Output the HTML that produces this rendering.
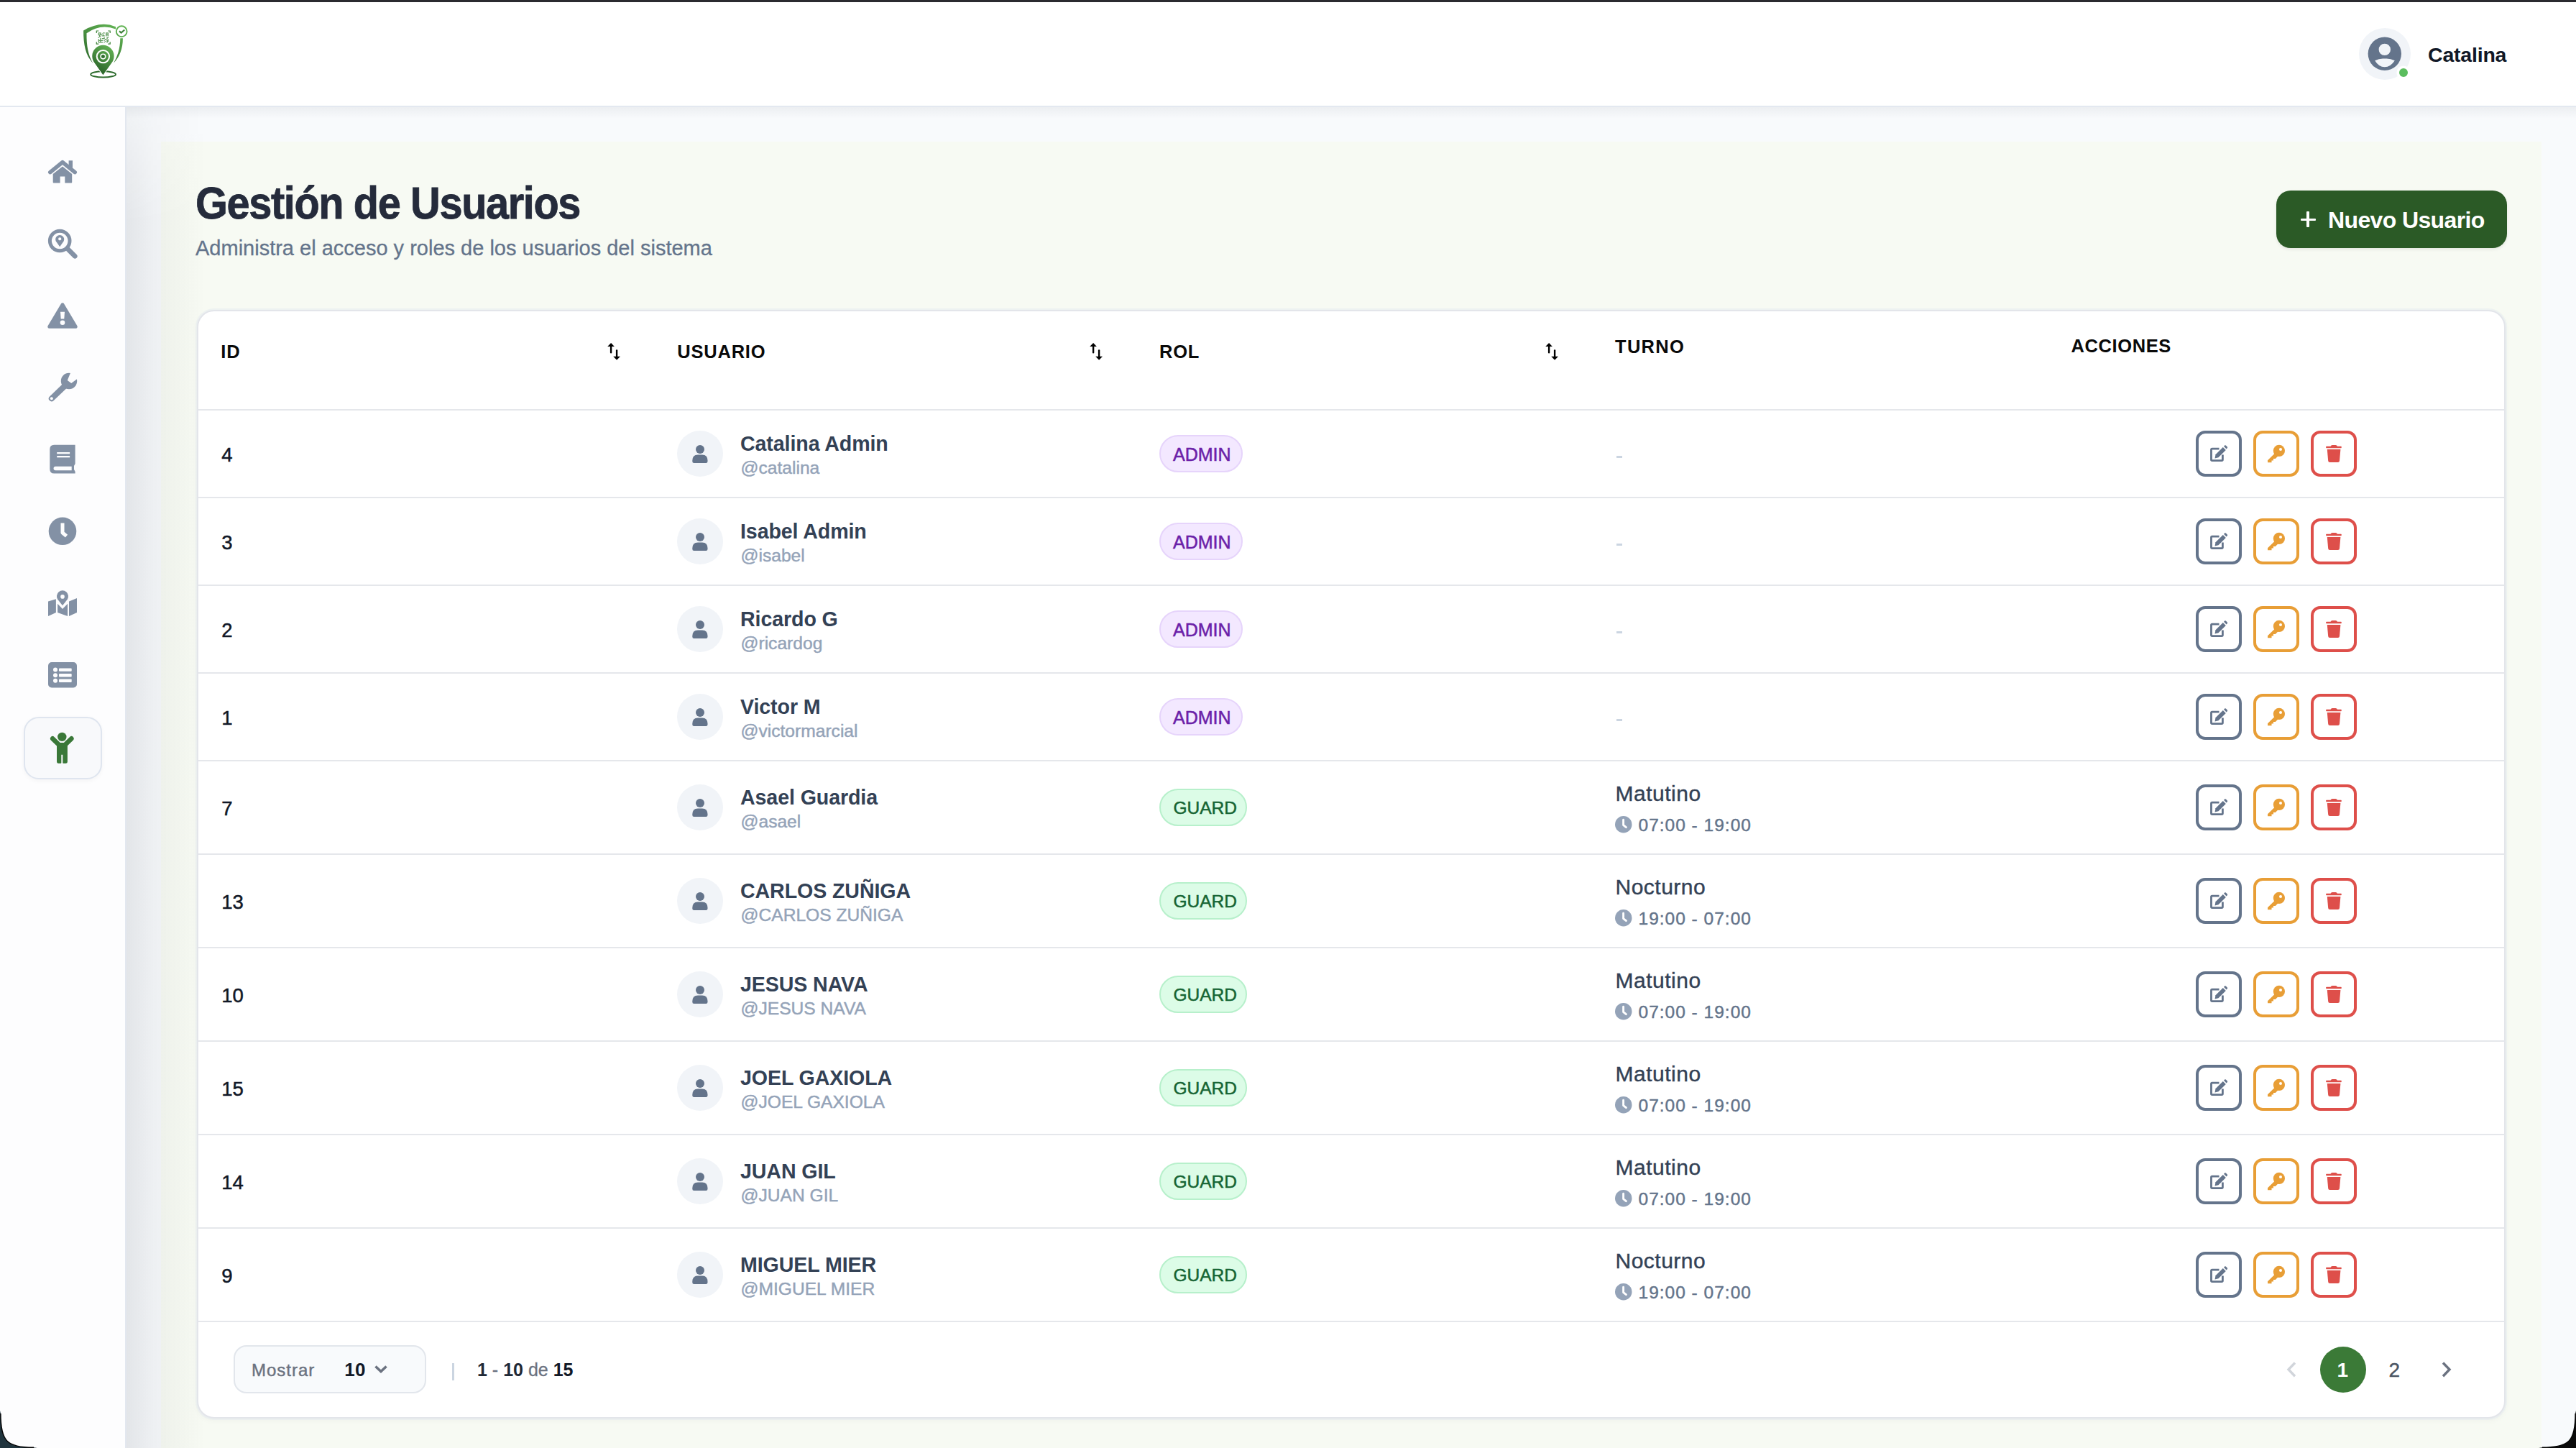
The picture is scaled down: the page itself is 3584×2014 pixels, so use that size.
<!DOCTYPE html><html><head><meta charset="utf-8"><style>
*{box-sizing:border-box;margin:0;padding:0}
html,body{width:3584px;height:2014px;overflow:hidden;background:#1b2a31}
body{font-family:"Liberation Sans",sans-serif;position:relative}
#win{position:absolute;left:0;top:0;width:3584px;height:2014px;overflow:hidden;background:#f8fafc}
.abs{position:absolute}
.t{position:absolute;white-space:nowrap;line-height:1}
svg{position:absolute;overflow:visible}
#topbar{left:0;top:0;width:3584px;height:3px;background:#2b2b30}
#header{left:0;top:3px;width:3584px;height:146px;background:#fff;border-bottom:2px solid #e3e8f0}
#hshadow{left:176px;top:149px;width:3408px;height:16px;background:linear-gradient(to bottom,rgba(30,40,60,.055),rgba(30,40,60,0))}
#sidebar{left:0;top:149px;width:176px;height:1865px;background:#fdfdfe;border-right:2px solid #e2e7ef}
#sshadow{left:176px;top:149px;width:110px;height:1865px;background:linear-gradient(to right,rgba(20,25,40,.09) 0,rgba(20,25,40,.045) 35%,rgba(20,25,40,0) 100%);-webkit-mask-image:linear-gradient(to bottom,rgba(0,0,0,.35) 0,#000 160px)}
#panel{left:224px;top:197px;width:3312px;height:1817px;background:#f7faf3}
#card{left:274px;top:431px;width:3212px;height:1542px;background:#fff;border:2px solid #e3e5ea;border-radius:24px;box-shadow:0 0 0 2px rgba(226,232,240,.45),0 3px 8px rgba(0,0,0,.035)}
.hl{position:absolute;left:276px;width:3208px;height:2px;background:#e5e7eb}
.av{position:absolute;width:64px;height:64px;border-radius:50%;background:#f1f4f8}
.badge{position:absolute;height:52px;border-radius:26px;border:2px solid}
.ab{position:absolute;width:64px;height:64px;border:4px solid;border-radius:13px;background:#fff}
</style></head><body><div id="win">
<div id="panel" class="abs"></div><div id="sshadow" class="abs"></div><div id="hshadow" class="abs"></div><div id="sidebar" class="abs"></div><div id="header" class="abs"></div><div id="topbar" class="abs"></div>
<div class="t" style="left:271.50px;top:251.17px;font-size:63px;font-weight:700;color:#252b3b;letter-spacing:-1.5px;transform:scaleX(0.916);transform-origin:0 0;-webkit-text-stroke:0.8px #252b3b;">Gestión de Usuarios</div>
<div class="t" style="left:272.00px;top:331.25px;font-size:29px;font-weight:400;color:#64748b;-webkit-text-stroke:0.3px #64748b;">Administra el acceso y roles de los usuarios del sistema</div>
<div class="abs" style="left:3167px;top:265px;width:321px;height:80px;border-radius:20px;background:#2b5a26;box-shadow:0 2px 4px rgba(0,0,0,.08)"></div>
<div class="abs" style="left:3200.5px;top:303.5px;width:21.5px;height:3.6px;background:#fff;border-radius:1px"></div>
<div class="abs" style="left:3209.4px;top:294.4px;width:3.6px;height:21.5px;background:#fff;border-radius:1px"></div>
<div class="t" style="left:3239.00px;top:290.31px;font-size:32px;font-weight:700;color:#ffffff;letter-spacing:-0.63px;">Nuevo Usuario</div>
<div id="card" class="abs"></div>
<svg style="left:0;top:0" width="3584" height="150" viewBox="0 0 3584 150">
<defs><linearGradient id="lg" gradientUnits="userSpaceOnUse" x1="168" y1="40" x2="122" y2="104"><stop offset="0" stop-color="#62b354"/><stop offset="1" stop-color="#235b23"/></linearGradient>
<linearGradient id="lg3" gradientUnits="userSpaceOnUse" x1="156" y1="64" x2="132" y2="100"><stop offset="0" stop-color="#66b556"/><stop offset="1" stop-color="#265f26"/></linearGradient></defs>
<path d="M116.1,42.5 Q140,28.5 161,37.2 L161,40.6 Q140,32.5 120.5,46.3 C120.3,63 122.5,77 129.3,87.9 C119,77 116,62 116.1,42.5 Z" fill="url(#lg)"/>
<path d="M167.3,53.3 H170.9 C171,68 166,80 158.1,87.7 C163,79 167.3,68 167.3,53.3 Z" fill="url(#lg)"/>
<circle cx="169.2" cy="43.7" r="7.4" stroke="url(#lg)" stroke-width="1.9" fill="#fff"/>
<polyline points="166,43.4 168.6,45.6 173.3,41.5" stroke="#3b7f37" stroke-width="2.1" fill="none"/>
<path d="M134.3,46 V43 H137.3 M150.2,43 H153.2 V46 M153.2,58.2 V61.2 H150.2 M137.3,61.2 H134.3 V58.2" stroke="#3f8439" stroke-width="1.2" fill="none"/>
<path d="M136.60,45.20h1.31v1.31h-1.31zM137.91,45.20h1.31v1.31h-1.31zM139.22,45.20h1.31v1.31h-1.31zM143.15,45.20h1.31v1.31h-1.31zM144.45,45.20h1.31v1.31h-1.31zM147.07,45.20h1.31v1.31h-1.31zM148.38,45.20h1.31v1.31h-1.31zM149.69,45.20h1.31v1.31h-1.31zM136.60,46.51h1.31v1.31h-1.31zM139.22,46.51h1.31v1.31h-1.31zM141.84,46.51h1.31v1.31h-1.31zM147.07,46.51h1.31v1.31h-1.31zM149.69,46.51h1.31v1.31h-1.31zM136.60,47.82h1.31v1.31h-1.31zM137.91,47.82h1.31v1.31h-1.31zM139.22,47.82h1.31v1.31h-1.31zM140.53,47.82h1.31v1.31h-1.31zM143.15,47.82h1.31v1.31h-1.31zM147.07,47.82h1.31v1.31h-1.31zM148.38,47.82h1.31v1.31h-1.31zM149.69,47.82h1.31v1.31h-1.31zM137.91,49.13h1.31v1.31h-1.31zM141.84,49.13h1.31v1.31h-1.31zM143.15,49.13h1.31v1.31h-1.31zM144.45,49.13h1.31v1.31h-1.31zM147.07,49.13h1.31v1.31h-1.31zM149.69,49.13h1.31v1.31h-1.31zM137.91,50.44h1.31v1.31h-1.31zM139.22,50.44h1.31v1.31h-1.31zM136.60,51.75h1.31v1.31h-1.31zM144.45,51.75h1.31v1.31h-1.31zM148.38,51.75h1.31v1.31h-1.31zM149.69,51.75h1.31v1.31h-1.31zM139.22,53.05h1.31v1.31h-1.31zM141.84,53.05h1.31v1.31h-1.31zM143.15,53.05h1.31v1.31h-1.31zM144.45,53.05h1.31v1.31h-1.31zM148.38,53.05h1.31v1.31h-1.31zM136.60,54.36h1.31v1.31h-1.31zM139.22,54.36h1.31v1.31h-1.31zM145.76,54.36h1.31v1.31h-1.31zM147.07,54.36h1.31v1.31h-1.31zM149.69,54.36h1.31v1.31h-1.31zM136.60,55.67h1.31v1.31h-1.31zM137.91,55.67h1.31v1.31h-1.31zM139.22,55.67h1.31v1.31h-1.31zM140.53,55.67h1.31v1.31h-1.31zM141.84,55.67h1.31v1.31h-1.31zM144.45,55.67h1.31v1.31h-1.31zM148.38,55.67h1.31v1.31h-1.31zM149.69,55.67h1.31v1.31h-1.31zM136.60,56.98h1.31v1.31h-1.31zM139.22,56.98h1.31v1.31h-1.31zM145.76,56.98h1.31v1.31h-1.31zM148.38,56.98h1.31v1.31h-1.31zM149.69,56.98h1.31v1.31h-1.31zM136.60,58.29h1.31v1.31h-1.31zM137.91,58.29h1.31v1.31h-1.31zM139.22,58.29h1.31v1.31h-1.31zM140.53,58.29h1.31v1.31h-1.31zM141.84,58.29h1.31v1.31h-1.31zM144.45,58.29h1.31v1.31h-1.31zM148.38,58.29h1.31v1.31h-1.31z" fill="#3b8236" opacity=".8"/>
<ellipse cx="143.6" cy="103.4" rx="17.4" ry="4.1" stroke="#2c6a2b" stroke-width="1.9" fill="none"/>
<path d="M143.4,104.2 L131.2,87 A15.2,15.2 0 1 1 155.7,87 Z" fill="url(#lg3)" stroke="#fff" stroke-width="2.2" paint-order="stroke"/>
<circle cx="143.4" cy="78.6" r="8.7" stroke="#fff" stroke-width="2" fill="none"/>
<circle cx="143.4" cy="78.6" r="3.3" stroke="#fff" stroke-width="1.6" fill="#2f6e2d"/>
<circle cx="3318" cy="75" r="36" fill="#f1f4f8"/>
<circle cx="3317.8" cy="74.8" r="23.2" fill="#64748b"/>
<circle cx="3317.8" cy="68.9" r="8.2" fill="#f1f4f8"/>
<path d="M3304.2,84.2 Q3311,80.8 3317.8,81.6 Q3325,80.8 3331.8,84.2 Q3326,93.3 3317.8,93.3 Q3309.6,93.3 3304.2,84.2 Z" fill="#f1f4f8"/>
<circle cx="3344" cy="101" r="9.6" fill="#fff"/>
<circle cx="3344" cy="101" r="6" fill="#5bbd5e"/>
</svg>
<div class="t" style="left:3378.00px;top:61.87px;font-size:28.5px;font-weight:700;color:#111827;letter-spacing:-0.2px;">Catalina</div>
<svg style="left:0;top:0" width="180" height="1100" viewBox="0 0 180 1100">
<polyline points="69.8,239.6 87,225.6 104.2,239.6" stroke="#8391a5" stroke-width="5.6" fill="none" stroke-linecap="round" stroke-linejoin="round"/>
<rect x="95.6" y="223.3" width="5.4" height="10" fill="#8391a5"/>
<path d="M73.7,242 L87,231.5 L100.2,242 V253.4 Q100.2,254.4 99.2,254.4 H90.3 V245.6 H83.6 V254.4 H74.7 Q73.7,254.4 73.7,253.4 Z" fill="#8391a5"/>
<circle cx="83.2" cy="335" r="13.8" stroke="#8391a5" stroke-width="5" fill="none"/>
<line x1="94.8" y1="346.8" x2="104.3" y2="356.3" stroke="#8391a5" stroke-width="6.6" stroke-linecap="round"/>
<path d="M83.2,343.2 L77.8,335.5 A6,6 0 1 1 88.6,335.5 Z" fill="#8391a5"/>
<circle cx="83.2" cy="332.3" r="2.1" fill="#fdfdfe"/>
<path d="M87,423.5 L105.5,454.5 L68.5,454.5 Z" stroke="#8391a5" stroke-width="4.5" stroke-linejoin="round" fill="#8391a5"/>
<path d="M84,433.8 H90 L89.3,443.5 H84.7 Z" fill="#fdfdfe"/>
<circle cx="87" cy="448.7" r="3.3" fill="#fdfdfe"/>
<circle cx="96" cy="530" r="11.2" fill="#8391a5"/>
<path d="M93.8,529 L99.3,515.5 L110.5,524.8 L99.2,533 Z" fill="#fdfdfe"/>
<line x1="92" y1="535" x2="71.8" y2="554.3" stroke="#8391a5" stroke-width="8" stroke-linecap="round"/>
<circle cx="71.8" cy="554.3" r="2" fill="#fdfdfe"/>
<path d="M75.3,618.8 H104.6 V645 L103,648 V653 L104.6,656 V658.6 H75.3 Q69.3,658.6 69.3,652.6 V624.8 Q69.3,618.8 75.3,618.8 Z" fill="#8391a5"/>
<rect x="79.2" y="629" width="17.9" height="2.3" fill="#fdfdfe"/>
<rect x="79.2" y="634" width="17.9" height="2.3" fill="#fdfdfe"/>
<path d="M77.3,648.7 H99.7 V654.2 H77.3 A2.75,2.75 0 0 1 77.3,648.7 Z" fill="#fdfdfe"/>
<circle cx="87" cy="738.8" r="19.3" fill="#8391a5"/>
<polyline points="87,727.5 87,741 92.5,745.6" stroke="#fdfdfe" stroke-width="5" fill="none" stroke-linejoin="round"/>
<path d="M67,836.5 L77.9,833.2 V852 L67,857 Z" fill="#8391a5"/>
<path d="M80.1,839.8 L87,847 L94.1,839.8 V857 L80.1,852 Z" fill="#8391a5"/>
<path d="M96,836.5 L107,832 V852 L96,857 Z" fill="#8391a5"/>
<path d="M87,843.5 L79.5,834 A8.8,8.8 0 1 1 94.5,834 Z" fill="#8391a5" stroke="#fdfdfe" stroke-width="1.5"/>
<circle cx="87" cy="829.9" r="2.8" fill="#fdfdfe"/>
<rect x="67" y="921" width="40" height="35.4" rx="5" fill="#8391a5"/>
<circle cx="77" cy="931.6" r="3" fill="#fdfdfe"/><circle cx="77" cy="939.2" r="3" fill="#fdfdfe"/><circle cx="77" cy="946.8" r="3" fill="#fdfdfe"/>
<rect x="82" y="929.4" width="17.7" height="4.4" rx="1" fill="#fdfdfe"/><rect x="82" y="937" width="17.7" height="4.4" rx="1" fill="#fdfdfe"/><rect x="82" y="944.6" width="17.7" height="4.4" rx="1" fill="#fdfdfe"/>
</svg>
<div class="abs" style="left:32.5px;top:997px;width:109px;height:86.5px;border-radius:21px;background:#f8f9fb;border:2px solid #dfe5ef;box-shadow:0 2px 6px rgba(0,0,0,.04)"></div>
<svg style="left:0;top:0" width="180" height="1100" viewBox="0 0 180 1100">
<circle cx="86.3" cy="1024.9" r="6.2" fill="#3a7838"/>
<line x1="73.2" y1="1027.3" x2="81" y2="1034.8" stroke="#3a7838" stroke-width="6.5" stroke-linecap="round"/>
<line x1="99.4" y1="1027.3" x2="91.6" y2="1034.8" stroke="#3a7838" stroke-width="6.5" stroke-linecap="round"/>
<path d="M79,1033 H93.9 V1059.5 Q93.9,1061.8 91.6,1061.8 H88 Q87.3,1061.8 87.3,1061 V1049.7 H85.3 V1061 Q85.3,1061.8 84.5,1061.8 H81.3 Q79,1061.8 79,1059.5 Z" fill="#3a7838"/>
</svg>
<div class="t" style="left:307.30px;top:476.81px;font-size:25.5px;font-weight:700;color:#0a0a0a;letter-spacing:0.8px;">ID</div>
<div class="t" style="left:942.20px;top:477.01px;font-size:25.5px;font-weight:700;color:#0a0a0a;letter-spacing:0.8px;">USUARIO</div>
<div class="t" style="left:1613.00px;top:477.01px;font-size:25.5px;font-weight:700;color:#0a0a0a;letter-spacing:0.8px;">ROL</div>
<div class="t" style="left:2247.00px;top:470.41px;font-size:25.5px;font-weight:700;color:#0a0a0a;letter-spacing:1.3px;">TURNO</div>
<div class="t" style="left:2881.50px;top:469.41px;font-size:25.5px;font-weight:700;color:#0a0a0a;letter-spacing:0.6px;">ACCIONES</div>
<svg style="left:844.8px;top:476px" width="20" height="26" viewBox="0 0 20 26">
<path d="M5.1,1 L9.9,5.9 H6.3 V14.6 Q6.3,15.5 5.1,15.5 Q3.9,15.5 3.9,14.6 V5.9 H0.2 Z" fill="#000"/>
<path d="M13.1,24.7 L8.2,19.8 H11.9 V11.1 Q11.9,10.3 13.1,10.3 Q14.3,10.3 14.3,11.1 V19.8 H18 Z" fill="#000"/>
</svg>
<svg style="left:1516.3px;top:476px" width="20" height="26" viewBox="0 0 20 26">
<path d="M5.1,1 L9.9,5.9 H6.3 V14.6 Q6.3,15.5 5.1,15.5 Q3.9,15.5 3.9,14.6 V5.9 H0.2 Z" fill="#000"/>
<path d="M13.1,24.7 L8.2,19.8 H11.9 V11.1 Q11.9,10.3 13.1,10.3 Q14.3,10.3 14.3,11.1 V19.8 H18 Z" fill="#000"/>
</svg>
<svg style="left:2150px;top:476px" width="20" height="26" viewBox="0 0 20 26">
<path d="M5.1,1 L9.9,5.9 H6.3 V14.6 Q6.3,15.5 5.1,15.5 Q3.9,15.5 3.9,14.6 V5.9 H0.2 Z" fill="#000"/>
<path d="M13.1,24.7 L8.2,19.8 H11.9 V11.1 Q11.9,10.3 13.1,10.3 Q14.3,10.3 14.3,11.1 V19.8 H18 Z" fill="#000"/>
</svg>
<div class="hl" style="top:568.5px"></div>
<div class="t" style="left:308.30px;top:619.22px;font-size:27.5px;font-weight:400;color:#111827;-webkit-text-stroke:0.5px #111827;">4</div>
<div class="av" style="left:942px;top:599.00px"></div>
<svg style="left:960px;top:617.00px" width="28" height="28" viewBox="0 0 28 28">
<circle cx="14" cy="8" r="6" fill="#64748b"/>
<path d="M3.3,23.5 Q3.3,15.4 11,15.4 H17 Q24.5,15.4 24.5,23.5 V24.7 Q24.5,26.9 22.3,26.9 H5.5 Q3.3,26.9 3.3,24.7 Z" fill="#64748b"/>
</svg>
<div class="t" style="left:1030.00px;top:603.19px;font-size:28.6px;font-weight:700;color:#334155;letter-spacing:-0.1px;">Catalina Admin</div>
<div class="t" style="left:1030.50px;top:639.18px;font-size:24.6px;font-weight:400;color:#94a3b8;-webkit-text-stroke:0.45px #94a3b8;">@catalina</div>
<div class="badge" style="left:1612.8px;top:605.20px;width:116px;background:#f3e8ff;border-color:#e6d4fb"></div>
<div class="t" style="left:1632.00px;top:619.64px;font-size:25px;font-weight:400;color:#6b21a8;-webkit-text-stroke:0.5px #6b21a8;">ADMIN</div>
<div class="abs" style="left:2248.5px;top:634.00px;width:8.5px;height:2.6px;background:#cbd5e1"></div>
<div class="ab" style="left:3055px;top:599.00px;border-color:#64748b"></div>
<div class="ab" style="left:3135px;top:599.00px;border-color:#e89e36"></div>
<div class="ab" style="left:3215px;top:599.00px;border-color:#de4f4a"></div>
<svg style="left:3055px;top:599.00px" width="224" height="64" viewBox="0 0 224 64">
<path d="M32.5,25.1 H22.8 Q21.5,25.1 21.5,26.4 V40.3 Q21.5,41.6 22.8,41.6 H36.1 Q37.4,41.6 37.4,40.3 V33.5" stroke="#64748b" stroke-width="2.8" fill="none"/>
<path d="M26.5,38.4 L27.5,33.3 L37.8,23 L41.8,27 L31.5,37.3 Z" fill="#64748b"/>
<path d="M39,21.8 L40.2,20.6 Q41,19.8 41.8,20.6 L43.8,22.6 Q44.6,23.4 43.8,24.2 L42.6,25.4 Z" fill="#64748b"/>
<circle cx="115.9" cy="27.9" r="8.1" fill="#e89e36"/>
<circle cx="118" cy="26.1" r="2" fill="#fff"/>
<path d="M110.5,31 L100,41.3 V44.2 H105.5 V41.5 H108 V39 H110.8 L114.5,35.3 Z" fill="#e89e36"/>
<path d="M181.9,21.8 H187.5 Q188.2,20 190,20 H194.5 Q196.3,20 197,21.8 H202 Q202.8,21.8 202.8,23.05 Q202.8,24.3 202,24.3 H181.9 Q181.1,24.3 181.1,23.05 Q181.1,21.8 181.9,21.8 Z" fill="#de4f4a"/>
<path d="M182.8,26.1 H201.4 L200,42 Q199.8,43.9 197.8,43.9 H186.4 Q184.4,43.9 184.2,42 Z" fill="#de4f4a"/>
</svg>
<div class="hl" style="top:691.00px"></div>
<div class="t" style="left:308.30px;top:741.22px;font-size:27.5px;font-weight:400;color:#111827;-webkit-text-stroke:0.5px #111827;">3</div>
<div class="av" style="left:942px;top:721.00px"></div>
<svg style="left:960px;top:739.00px" width="28" height="28" viewBox="0 0 28 28">
<circle cx="14" cy="8" r="6" fill="#64748b"/>
<path d="M3.3,23.5 Q3.3,15.4 11,15.4 H17 Q24.5,15.4 24.5,23.5 V24.7 Q24.5,26.9 22.3,26.9 H5.5 Q3.3,26.9 3.3,24.7 Z" fill="#64748b"/>
</svg>
<div class="t" style="left:1030.00px;top:725.19px;font-size:28.6px;font-weight:700;color:#334155;letter-spacing:-0.1px;">Isabel Admin</div>
<div class="t" style="left:1030.50px;top:761.18px;font-size:24.6px;font-weight:400;color:#94a3b8;-webkit-text-stroke:0.45px #94a3b8;">@isabel</div>
<div class="badge" style="left:1612.8px;top:727.20px;width:116px;background:#f3e8ff;border-color:#e6d4fb"></div>
<div class="t" style="left:1632.00px;top:741.64px;font-size:25px;font-weight:400;color:#6b21a8;-webkit-text-stroke:0.5px #6b21a8;">ADMIN</div>
<div class="abs" style="left:2248.5px;top:756.00px;width:8.5px;height:2.6px;background:#cbd5e1"></div>
<div class="ab" style="left:3055px;top:721.00px;border-color:#64748b"></div>
<div class="ab" style="left:3135px;top:721.00px;border-color:#e89e36"></div>
<div class="ab" style="left:3215px;top:721.00px;border-color:#de4f4a"></div>
<svg style="left:3055px;top:721.00px" width="224" height="64" viewBox="0 0 224 64">
<path d="M32.5,25.1 H22.8 Q21.5,25.1 21.5,26.4 V40.3 Q21.5,41.6 22.8,41.6 H36.1 Q37.4,41.6 37.4,40.3 V33.5" stroke="#64748b" stroke-width="2.8" fill="none"/>
<path d="M26.5,38.4 L27.5,33.3 L37.8,23 L41.8,27 L31.5,37.3 Z" fill="#64748b"/>
<path d="M39,21.8 L40.2,20.6 Q41,19.8 41.8,20.6 L43.8,22.6 Q44.6,23.4 43.8,24.2 L42.6,25.4 Z" fill="#64748b"/>
<circle cx="115.9" cy="27.9" r="8.1" fill="#e89e36"/>
<circle cx="118" cy="26.1" r="2" fill="#fff"/>
<path d="M110.5,31 L100,41.3 V44.2 H105.5 V41.5 H108 V39 H110.8 L114.5,35.3 Z" fill="#e89e36"/>
<path d="M181.9,21.8 H187.5 Q188.2,20 190,20 H194.5 Q196.3,20 197,21.8 H202 Q202.8,21.8 202.8,23.05 Q202.8,24.3 202,24.3 H181.9 Q181.1,24.3 181.1,23.05 Q181.1,21.8 181.9,21.8 Z" fill="#de4f4a"/>
<path d="M182.8,26.1 H201.4 L200,42 Q199.8,43.9 197.8,43.9 H186.4 Q184.4,43.9 184.2,42 Z" fill="#de4f4a"/>
</svg>
<div class="hl" style="top:813.00px"></div>
<div class="t" style="left:308.30px;top:863.22px;font-size:27.5px;font-weight:400;color:#111827;-webkit-text-stroke:0.5px #111827;">2</div>
<div class="av" style="left:942px;top:843.00px"></div>
<svg style="left:960px;top:861.00px" width="28" height="28" viewBox="0 0 28 28">
<circle cx="14" cy="8" r="6" fill="#64748b"/>
<path d="M3.3,23.5 Q3.3,15.4 11,15.4 H17 Q24.5,15.4 24.5,23.5 V24.7 Q24.5,26.9 22.3,26.9 H5.5 Q3.3,26.9 3.3,24.7 Z" fill="#64748b"/>
</svg>
<div class="t" style="left:1030.00px;top:847.19px;font-size:28.6px;font-weight:700;color:#334155;letter-spacing:-0.1px;">Ricardo G</div>
<div class="t" style="left:1030.50px;top:883.18px;font-size:24.6px;font-weight:400;color:#94a3b8;-webkit-text-stroke:0.45px #94a3b8;">@ricardog</div>
<div class="badge" style="left:1612.8px;top:849.20px;width:116px;background:#f3e8ff;border-color:#e6d4fb"></div>
<div class="t" style="left:1632.00px;top:863.64px;font-size:25px;font-weight:400;color:#6b21a8;-webkit-text-stroke:0.5px #6b21a8;">ADMIN</div>
<div class="abs" style="left:2248.5px;top:878.00px;width:8.5px;height:2.6px;background:#cbd5e1"></div>
<div class="ab" style="left:3055px;top:843.00px;border-color:#64748b"></div>
<div class="ab" style="left:3135px;top:843.00px;border-color:#e89e36"></div>
<div class="ab" style="left:3215px;top:843.00px;border-color:#de4f4a"></div>
<svg style="left:3055px;top:843.00px" width="224" height="64" viewBox="0 0 224 64">
<path d="M32.5,25.1 H22.8 Q21.5,25.1 21.5,26.4 V40.3 Q21.5,41.6 22.8,41.6 H36.1 Q37.4,41.6 37.4,40.3 V33.5" stroke="#64748b" stroke-width="2.8" fill="none"/>
<path d="M26.5,38.4 L27.5,33.3 L37.8,23 L41.8,27 L31.5,37.3 Z" fill="#64748b"/>
<path d="M39,21.8 L40.2,20.6 Q41,19.8 41.8,20.6 L43.8,22.6 Q44.6,23.4 43.8,24.2 L42.6,25.4 Z" fill="#64748b"/>
<circle cx="115.9" cy="27.9" r="8.1" fill="#e89e36"/>
<circle cx="118" cy="26.1" r="2" fill="#fff"/>
<path d="M110.5,31 L100,41.3 V44.2 H105.5 V41.5 H108 V39 H110.8 L114.5,35.3 Z" fill="#e89e36"/>
<path d="M181.9,21.8 H187.5 Q188.2,20 190,20 H194.5 Q196.3,20 197,21.8 H202 Q202.8,21.8 202.8,23.05 Q202.8,24.3 202,24.3 H181.9 Q181.1,24.3 181.1,23.05 Q181.1,21.8 181.9,21.8 Z" fill="#de4f4a"/>
<path d="M182.8,26.1 H201.4 L200,42 Q199.8,43.9 197.8,43.9 H186.4 Q184.4,43.9 184.2,42 Z" fill="#de4f4a"/>
</svg>
<div class="hl" style="top:935.00px"></div>
<div class="t" style="left:308.30px;top:985.22px;font-size:27.5px;font-weight:400;color:#111827;-webkit-text-stroke:0.5px #111827;">1</div>
<div class="av" style="left:942px;top:965.00px"></div>
<svg style="left:960px;top:983.00px" width="28" height="28" viewBox="0 0 28 28">
<circle cx="14" cy="8" r="6" fill="#64748b"/>
<path d="M3.3,23.5 Q3.3,15.4 11,15.4 H17 Q24.5,15.4 24.5,23.5 V24.7 Q24.5,26.9 22.3,26.9 H5.5 Q3.3,26.9 3.3,24.7 Z" fill="#64748b"/>
</svg>
<div class="t" style="left:1030.00px;top:969.19px;font-size:28.6px;font-weight:700;color:#334155;letter-spacing:-0.1px;">Victor M</div>
<div class="t" style="left:1030.50px;top:1005.18px;font-size:24.6px;font-weight:400;color:#94a3b8;-webkit-text-stroke:0.45px #94a3b8;">@victormarcial</div>
<div class="badge" style="left:1612.8px;top:971.20px;width:116px;background:#f3e8ff;border-color:#e6d4fb"></div>
<div class="t" style="left:1632.00px;top:985.64px;font-size:25px;font-weight:400;color:#6b21a8;-webkit-text-stroke:0.5px #6b21a8;">ADMIN</div>
<div class="abs" style="left:2248.5px;top:1000.00px;width:8.5px;height:2.6px;background:#cbd5e1"></div>
<div class="ab" style="left:3055px;top:965.00px;border-color:#64748b"></div>
<div class="ab" style="left:3135px;top:965.00px;border-color:#e89e36"></div>
<div class="ab" style="left:3215px;top:965.00px;border-color:#de4f4a"></div>
<svg style="left:3055px;top:965.00px" width="224" height="64" viewBox="0 0 224 64">
<path d="M32.5,25.1 H22.8 Q21.5,25.1 21.5,26.4 V40.3 Q21.5,41.6 22.8,41.6 H36.1 Q37.4,41.6 37.4,40.3 V33.5" stroke="#64748b" stroke-width="2.8" fill="none"/>
<path d="M26.5,38.4 L27.5,33.3 L37.8,23 L41.8,27 L31.5,37.3 Z" fill="#64748b"/>
<path d="M39,21.8 L40.2,20.6 Q41,19.8 41.8,20.6 L43.8,22.6 Q44.6,23.4 43.8,24.2 L42.6,25.4 Z" fill="#64748b"/>
<circle cx="115.9" cy="27.9" r="8.1" fill="#e89e36"/>
<circle cx="118" cy="26.1" r="2" fill="#fff"/>
<path d="M110.5,31 L100,41.3 V44.2 H105.5 V41.5 H108 V39 H110.8 L114.5,35.3 Z" fill="#e89e36"/>
<path d="M181.9,21.8 H187.5 Q188.2,20 190,20 H194.5 Q196.3,20 197,21.8 H202 Q202.8,21.8 202.8,23.05 Q202.8,24.3 202,24.3 H181.9 Q181.1,24.3 181.1,23.05 Q181.1,21.8 181.9,21.8 Z" fill="#de4f4a"/>
<path d="M182.8,26.1 H201.4 L200,42 Q199.8,43.9 197.8,43.9 H186.4 Q184.4,43.9 184.2,42 Z" fill="#de4f4a"/>
</svg>
<div class="hl" style="top:1057.00px"></div>
<div class="t" style="left:308.30px;top:1111.22px;font-size:27.5px;font-weight:400;color:#111827;-webkit-text-stroke:0.5px #111827;">7</div>
<div class="av" style="left:942px;top:1091.00px"></div>
<svg style="left:960px;top:1109.00px" width="28" height="28" viewBox="0 0 28 28">
<circle cx="14" cy="8" r="6" fill="#64748b"/>
<path d="M3.3,23.5 Q3.3,15.4 11,15.4 H17 Q24.5,15.4 24.5,23.5 V24.7 Q24.5,26.9 22.3,26.9 H5.5 Q3.3,26.9 3.3,24.7 Z" fill="#64748b"/>
</svg>
<div class="t" style="left:1030.00px;top:1095.19px;font-size:28.6px;font-weight:700;color:#334155;letter-spacing:-0.1px;">Asael Guardia</div>
<div class="t" style="left:1030.50px;top:1131.18px;font-size:24.6px;font-weight:400;color:#94a3b8;-webkit-text-stroke:0.45px #94a3b8;">@asael</div>
<div class="badge" style="left:1612.8px;top:1097.30px;width:122px;background:#dcfce7;border-color:#b7f0cb"></div>
<div class="t" style="left:1632.50px;top:1112.16px;font-size:24.5px;font-weight:400;color:#166534;-webkit-text-stroke:0.5px #166534;">GUARD</div>
<div class="t" style="left:2247.50px;top:1088.81px;font-size:30px;font-weight:400;color:#334155;letter-spacing:0.5px;-webkit-text-stroke:0.4px #334155;">Matutino</div>
<svg style="left:2246.8px;top:1135.40px" width="23.5" height="23.5" viewBox="0 0 23.5 23.5">
<circle cx="11.75" cy="11.75" r="11.75" fill="#94a3b8"/>
<polyline points="11.6,5.2 11.6,12.6 15.4,15.6" stroke="#fff" stroke-width="2.9" fill="none" stroke-linejoin="round" stroke-linecap="round"/>
</svg>
<div class="t" style="left:2279.50px;top:1135.56px;font-size:24.5px;font-weight:400;color:#64748b;letter-spacing:1.0px;-webkit-text-stroke:0.45px #64748b;">07:00 - 19:00</div>
<div class="ab" style="left:3055px;top:1091.00px;border-color:#64748b"></div>
<div class="ab" style="left:3135px;top:1091.00px;border-color:#e89e36"></div>
<div class="ab" style="left:3215px;top:1091.00px;border-color:#de4f4a"></div>
<svg style="left:3055px;top:1091.00px" width="224" height="64" viewBox="0 0 224 64">
<path d="M32.5,25.1 H22.8 Q21.5,25.1 21.5,26.4 V40.3 Q21.5,41.6 22.8,41.6 H36.1 Q37.4,41.6 37.4,40.3 V33.5" stroke="#64748b" stroke-width="2.8" fill="none"/>
<path d="M26.5,38.4 L27.5,33.3 L37.8,23 L41.8,27 L31.5,37.3 Z" fill="#64748b"/>
<path d="M39,21.8 L40.2,20.6 Q41,19.8 41.8,20.6 L43.8,22.6 Q44.6,23.4 43.8,24.2 L42.6,25.4 Z" fill="#64748b"/>
<circle cx="115.9" cy="27.9" r="8.1" fill="#e89e36"/>
<circle cx="118" cy="26.1" r="2" fill="#fff"/>
<path d="M110.5,31 L100,41.3 V44.2 H105.5 V41.5 H108 V39 H110.8 L114.5,35.3 Z" fill="#e89e36"/>
<path d="M181.9,21.8 H187.5 Q188.2,20 190,20 H194.5 Q196.3,20 197,21.8 H202 Q202.8,21.8 202.8,23.05 Q202.8,24.3 202,24.3 H181.9 Q181.1,24.3 181.1,23.05 Q181.1,21.8 181.9,21.8 Z" fill="#de4f4a"/>
<path d="M182.8,26.1 H201.4 L200,42 Q199.8,43.9 197.8,43.9 H186.4 Q184.4,43.9 184.2,42 Z" fill="#de4f4a"/>
</svg>
<div class="hl" style="top:1187.00px"></div>
<div class="t" style="left:308.30px;top:1241.22px;font-size:27.5px;font-weight:400;color:#111827;-webkit-text-stroke:0.5px #111827;">13</div>
<div class="av" style="left:942px;top:1221.00px"></div>
<svg style="left:960px;top:1239.00px" width="28" height="28" viewBox="0 0 28 28">
<circle cx="14" cy="8" r="6" fill="#64748b"/>
<path d="M3.3,23.5 Q3.3,15.4 11,15.4 H17 Q24.5,15.4 24.5,23.5 V24.7 Q24.5,26.9 22.3,26.9 H5.5 Q3.3,26.9 3.3,24.7 Z" fill="#64748b"/>
</svg>
<div class="t" style="left:1030.00px;top:1225.19px;font-size:28.6px;font-weight:700;color:#334155;letter-spacing:-0.1px;">CARLOS ZUÑIGA</div>
<div class="t" style="left:1030.50px;top:1261.18px;font-size:24.6px;font-weight:400;color:#94a3b8;-webkit-text-stroke:0.45px #94a3b8;">@CARLOS ZUÑIGA</div>
<div class="badge" style="left:1612.8px;top:1227.30px;width:122px;background:#dcfce7;border-color:#b7f0cb"></div>
<div class="t" style="left:1632.50px;top:1242.16px;font-size:24.5px;font-weight:400;color:#166534;-webkit-text-stroke:0.5px #166534;">GUARD</div>
<div class="t" style="left:2247.50px;top:1218.81px;font-size:30px;font-weight:400;color:#334155;letter-spacing:0.5px;-webkit-text-stroke:0.4px #334155;">Nocturno</div>
<svg style="left:2246.8px;top:1265.40px" width="23.5" height="23.5" viewBox="0 0 23.5 23.5">
<circle cx="11.75" cy="11.75" r="11.75" fill="#94a3b8"/>
<polyline points="11.6,5.2 11.6,12.6 15.4,15.6" stroke="#fff" stroke-width="2.9" fill="none" stroke-linejoin="round" stroke-linecap="round"/>
</svg>
<div class="t" style="left:2279.50px;top:1265.56px;font-size:24.5px;font-weight:400;color:#64748b;letter-spacing:1.0px;-webkit-text-stroke:0.45px #64748b;">19:00 - 07:00</div>
<div class="ab" style="left:3055px;top:1221.00px;border-color:#64748b"></div>
<div class="ab" style="left:3135px;top:1221.00px;border-color:#e89e36"></div>
<div class="ab" style="left:3215px;top:1221.00px;border-color:#de4f4a"></div>
<svg style="left:3055px;top:1221.00px" width="224" height="64" viewBox="0 0 224 64">
<path d="M32.5,25.1 H22.8 Q21.5,25.1 21.5,26.4 V40.3 Q21.5,41.6 22.8,41.6 H36.1 Q37.4,41.6 37.4,40.3 V33.5" stroke="#64748b" stroke-width="2.8" fill="none"/>
<path d="M26.5,38.4 L27.5,33.3 L37.8,23 L41.8,27 L31.5,37.3 Z" fill="#64748b"/>
<path d="M39,21.8 L40.2,20.6 Q41,19.8 41.8,20.6 L43.8,22.6 Q44.6,23.4 43.8,24.2 L42.6,25.4 Z" fill="#64748b"/>
<circle cx="115.9" cy="27.9" r="8.1" fill="#e89e36"/>
<circle cx="118" cy="26.1" r="2" fill="#fff"/>
<path d="M110.5,31 L100,41.3 V44.2 H105.5 V41.5 H108 V39 H110.8 L114.5,35.3 Z" fill="#e89e36"/>
<path d="M181.9,21.8 H187.5 Q188.2,20 190,20 H194.5 Q196.3,20 197,21.8 H202 Q202.8,21.8 202.8,23.05 Q202.8,24.3 202,24.3 H181.9 Q181.1,24.3 181.1,23.05 Q181.1,21.8 181.9,21.8 Z" fill="#de4f4a"/>
<path d="M182.8,26.1 H201.4 L200,42 Q199.8,43.9 197.8,43.9 H186.4 Q184.4,43.9 184.2,42 Z" fill="#de4f4a"/>
</svg>
<div class="hl" style="top:1317.00px"></div>
<div class="t" style="left:308.30px;top:1371.22px;font-size:27.5px;font-weight:400;color:#111827;-webkit-text-stroke:0.5px #111827;">10</div>
<div class="av" style="left:942px;top:1351.00px"></div>
<svg style="left:960px;top:1369.00px" width="28" height="28" viewBox="0 0 28 28">
<circle cx="14" cy="8" r="6" fill="#64748b"/>
<path d="M3.3,23.5 Q3.3,15.4 11,15.4 H17 Q24.5,15.4 24.5,23.5 V24.7 Q24.5,26.9 22.3,26.9 H5.5 Q3.3,26.9 3.3,24.7 Z" fill="#64748b"/>
</svg>
<div class="t" style="left:1030.00px;top:1355.19px;font-size:28.6px;font-weight:700;color:#334155;letter-spacing:-0.1px;">JESUS NAVA</div>
<div class="t" style="left:1030.50px;top:1391.18px;font-size:24.6px;font-weight:400;color:#94a3b8;-webkit-text-stroke:0.45px #94a3b8;">@JESUS NAVA</div>
<div class="badge" style="left:1612.8px;top:1357.30px;width:122px;background:#dcfce7;border-color:#b7f0cb"></div>
<div class="t" style="left:1632.50px;top:1372.16px;font-size:24.5px;font-weight:400;color:#166534;-webkit-text-stroke:0.5px #166534;">GUARD</div>
<div class="t" style="left:2247.50px;top:1348.81px;font-size:30px;font-weight:400;color:#334155;letter-spacing:0.5px;-webkit-text-stroke:0.4px #334155;">Matutino</div>
<svg style="left:2246.8px;top:1395.40px" width="23.5" height="23.5" viewBox="0 0 23.5 23.5">
<circle cx="11.75" cy="11.75" r="11.75" fill="#94a3b8"/>
<polyline points="11.6,5.2 11.6,12.6 15.4,15.6" stroke="#fff" stroke-width="2.9" fill="none" stroke-linejoin="round" stroke-linecap="round"/>
</svg>
<div class="t" style="left:2279.50px;top:1395.56px;font-size:24.5px;font-weight:400;color:#64748b;letter-spacing:1.0px;-webkit-text-stroke:0.45px #64748b;">07:00 - 19:00</div>
<div class="ab" style="left:3055px;top:1351.00px;border-color:#64748b"></div>
<div class="ab" style="left:3135px;top:1351.00px;border-color:#e89e36"></div>
<div class="ab" style="left:3215px;top:1351.00px;border-color:#de4f4a"></div>
<svg style="left:3055px;top:1351.00px" width="224" height="64" viewBox="0 0 224 64">
<path d="M32.5,25.1 H22.8 Q21.5,25.1 21.5,26.4 V40.3 Q21.5,41.6 22.8,41.6 H36.1 Q37.4,41.6 37.4,40.3 V33.5" stroke="#64748b" stroke-width="2.8" fill="none"/>
<path d="M26.5,38.4 L27.5,33.3 L37.8,23 L41.8,27 L31.5,37.3 Z" fill="#64748b"/>
<path d="M39,21.8 L40.2,20.6 Q41,19.8 41.8,20.6 L43.8,22.6 Q44.6,23.4 43.8,24.2 L42.6,25.4 Z" fill="#64748b"/>
<circle cx="115.9" cy="27.9" r="8.1" fill="#e89e36"/>
<circle cx="118" cy="26.1" r="2" fill="#fff"/>
<path d="M110.5,31 L100,41.3 V44.2 H105.5 V41.5 H108 V39 H110.8 L114.5,35.3 Z" fill="#e89e36"/>
<path d="M181.9,21.8 H187.5 Q188.2,20 190,20 H194.5 Q196.3,20 197,21.8 H202 Q202.8,21.8 202.8,23.05 Q202.8,24.3 202,24.3 H181.9 Q181.1,24.3 181.1,23.05 Q181.1,21.8 181.9,21.8 Z" fill="#de4f4a"/>
<path d="M182.8,26.1 H201.4 L200,42 Q199.8,43.9 197.8,43.9 H186.4 Q184.4,43.9 184.2,42 Z" fill="#de4f4a"/>
</svg>
<div class="hl" style="top:1447.00px"></div>
<div class="t" style="left:308.30px;top:1501.22px;font-size:27.5px;font-weight:400;color:#111827;-webkit-text-stroke:0.5px #111827;">15</div>
<div class="av" style="left:942px;top:1481.00px"></div>
<svg style="left:960px;top:1499.00px" width="28" height="28" viewBox="0 0 28 28">
<circle cx="14" cy="8" r="6" fill="#64748b"/>
<path d="M3.3,23.5 Q3.3,15.4 11,15.4 H17 Q24.5,15.4 24.5,23.5 V24.7 Q24.5,26.9 22.3,26.9 H5.5 Q3.3,26.9 3.3,24.7 Z" fill="#64748b"/>
</svg>
<div class="t" style="left:1030.00px;top:1485.19px;font-size:28.6px;font-weight:700;color:#334155;letter-spacing:-0.1px;">JOEL GAXIOLA</div>
<div class="t" style="left:1030.50px;top:1521.18px;font-size:24.6px;font-weight:400;color:#94a3b8;-webkit-text-stroke:0.45px #94a3b8;">@JOEL GAXIOLA</div>
<div class="badge" style="left:1612.8px;top:1487.30px;width:122px;background:#dcfce7;border-color:#b7f0cb"></div>
<div class="t" style="left:1632.50px;top:1502.16px;font-size:24.5px;font-weight:400;color:#166534;-webkit-text-stroke:0.5px #166534;">GUARD</div>
<div class="t" style="left:2247.50px;top:1478.81px;font-size:30px;font-weight:400;color:#334155;letter-spacing:0.5px;-webkit-text-stroke:0.4px #334155;">Matutino</div>
<svg style="left:2246.8px;top:1525.40px" width="23.5" height="23.5" viewBox="0 0 23.5 23.5">
<circle cx="11.75" cy="11.75" r="11.75" fill="#94a3b8"/>
<polyline points="11.6,5.2 11.6,12.6 15.4,15.6" stroke="#fff" stroke-width="2.9" fill="none" stroke-linejoin="round" stroke-linecap="round"/>
</svg>
<div class="t" style="left:2279.50px;top:1525.56px;font-size:24.5px;font-weight:400;color:#64748b;letter-spacing:1.0px;-webkit-text-stroke:0.45px #64748b;">07:00 - 19:00</div>
<div class="ab" style="left:3055px;top:1481.00px;border-color:#64748b"></div>
<div class="ab" style="left:3135px;top:1481.00px;border-color:#e89e36"></div>
<div class="ab" style="left:3215px;top:1481.00px;border-color:#de4f4a"></div>
<svg style="left:3055px;top:1481.00px" width="224" height="64" viewBox="0 0 224 64">
<path d="M32.5,25.1 H22.8 Q21.5,25.1 21.5,26.4 V40.3 Q21.5,41.6 22.8,41.6 H36.1 Q37.4,41.6 37.4,40.3 V33.5" stroke="#64748b" stroke-width="2.8" fill="none"/>
<path d="M26.5,38.4 L27.5,33.3 L37.8,23 L41.8,27 L31.5,37.3 Z" fill="#64748b"/>
<path d="M39,21.8 L40.2,20.6 Q41,19.8 41.8,20.6 L43.8,22.6 Q44.6,23.4 43.8,24.2 L42.6,25.4 Z" fill="#64748b"/>
<circle cx="115.9" cy="27.9" r="8.1" fill="#e89e36"/>
<circle cx="118" cy="26.1" r="2" fill="#fff"/>
<path d="M110.5,31 L100,41.3 V44.2 H105.5 V41.5 H108 V39 H110.8 L114.5,35.3 Z" fill="#e89e36"/>
<path d="M181.9,21.8 H187.5 Q188.2,20 190,20 H194.5 Q196.3,20 197,21.8 H202 Q202.8,21.8 202.8,23.05 Q202.8,24.3 202,24.3 H181.9 Q181.1,24.3 181.1,23.05 Q181.1,21.8 181.9,21.8 Z" fill="#de4f4a"/>
<path d="M182.8,26.1 H201.4 L200,42 Q199.8,43.9 197.8,43.9 H186.4 Q184.4,43.9 184.2,42 Z" fill="#de4f4a"/>
</svg>
<div class="hl" style="top:1577.00px"></div>
<div class="t" style="left:308.30px;top:1631.22px;font-size:27.5px;font-weight:400;color:#111827;-webkit-text-stroke:0.5px #111827;">14</div>
<div class="av" style="left:942px;top:1611.00px"></div>
<svg style="left:960px;top:1629.00px" width="28" height="28" viewBox="0 0 28 28">
<circle cx="14" cy="8" r="6" fill="#64748b"/>
<path d="M3.3,23.5 Q3.3,15.4 11,15.4 H17 Q24.5,15.4 24.5,23.5 V24.7 Q24.5,26.9 22.3,26.9 H5.5 Q3.3,26.9 3.3,24.7 Z" fill="#64748b"/>
</svg>
<div class="t" style="left:1030.00px;top:1615.19px;font-size:28.6px;font-weight:700;color:#334155;letter-spacing:-0.1px;">JUAN GIL</div>
<div class="t" style="left:1030.50px;top:1651.18px;font-size:24.6px;font-weight:400;color:#94a3b8;-webkit-text-stroke:0.45px #94a3b8;">@JUAN GIL</div>
<div class="badge" style="left:1612.8px;top:1617.30px;width:122px;background:#dcfce7;border-color:#b7f0cb"></div>
<div class="t" style="left:1632.50px;top:1632.16px;font-size:24.5px;font-weight:400;color:#166534;-webkit-text-stroke:0.5px #166534;">GUARD</div>
<div class="t" style="left:2247.50px;top:1608.81px;font-size:30px;font-weight:400;color:#334155;letter-spacing:0.5px;-webkit-text-stroke:0.4px #334155;">Matutino</div>
<svg style="left:2246.8px;top:1655.40px" width="23.5" height="23.5" viewBox="0 0 23.5 23.5">
<circle cx="11.75" cy="11.75" r="11.75" fill="#94a3b8"/>
<polyline points="11.6,5.2 11.6,12.6 15.4,15.6" stroke="#fff" stroke-width="2.9" fill="none" stroke-linejoin="round" stroke-linecap="round"/>
</svg>
<div class="t" style="left:2279.50px;top:1655.56px;font-size:24.5px;font-weight:400;color:#64748b;letter-spacing:1.0px;-webkit-text-stroke:0.45px #64748b;">07:00 - 19:00</div>
<div class="ab" style="left:3055px;top:1611.00px;border-color:#64748b"></div>
<div class="ab" style="left:3135px;top:1611.00px;border-color:#e89e36"></div>
<div class="ab" style="left:3215px;top:1611.00px;border-color:#de4f4a"></div>
<svg style="left:3055px;top:1611.00px" width="224" height="64" viewBox="0 0 224 64">
<path d="M32.5,25.1 H22.8 Q21.5,25.1 21.5,26.4 V40.3 Q21.5,41.6 22.8,41.6 H36.1 Q37.4,41.6 37.4,40.3 V33.5" stroke="#64748b" stroke-width="2.8" fill="none"/>
<path d="M26.5,38.4 L27.5,33.3 L37.8,23 L41.8,27 L31.5,37.3 Z" fill="#64748b"/>
<path d="M39,21.8 L40.2,20.6 Q41,19.8 41.8,20.6 L43.8,22.6 Q44.6,23.4 43.8,24.2 L42.6,25.4 Z" fill="#64748b"/>
<circle cx="115.9" cy="27.9" r="8.1" fill="#e89e36"/>
<circle cx="118" cy="26.1" r="2" fill="#fff"/>
<path d="M110.5,31 L100,41.3 V44.2 H105.5 V41.5 H108 V39 H110.8 L114.5,35.3 Z" fill="#e89e36"/>
<path d="M181.9,21.8 H187.5 Q188.2,20 190,20 H194.5 Q196.3,20 197,21.8 H202 Q202.8,21.8 202.8,23.05 Q202.8,24.3 202,24.3 H181.9 Q181.1,24.3 181.1,23.05 Q181.1,21.8 181.9,21.8 Z" fill="#de4f4a"/>
<path d="M182.8,26.1 H201.4 L200,42 Q199.8,43.9 197.8,43.9 H186.4 Q184.4,43.9 184.2,42 Z" fill="#de4f4a"/>
</svg>
<div class="hl" style="top:1707.00px"></div>
<div class="t" style="left:308.30px;top:1761.22px;font-size:27.5px;font-weight:400;color:#111827;-webkit-text-stroke:0.5px #111827;">9</div>
<div class="av" style="left:942px;top:1741.00px"></div>
<svg style="left:960px;top:1759.00px" width="28" height="28" viewBox="0 0 28 28">
<circle cx="14" cy="8" r="6" fill="#64748b"/>
<path d="M3.3,23.5 Q3.3,15.4 11,15.4 H17 Q24.5,15.4 24.5,23.5 V24.7 Q24.5,26.9 22.3,26.9 H5.5 Q3.3,26.9 3.3,24.7 Z" fill="#64748b"/>
</svg>
<div class="t" style="left:1030.00px;top:1745.19px;font-size:28.6px;font-weight:700;color:#334155;letter-spacing:-0.1px;">MIGUEL MIER</div>
<div class="t" style="left:1030.50px;top:1781.18px;font-size:24.6px;font-weight:400;color:#94a3b8;-webkit-text-stroke:0.45px #94a3b8;">@MIGUEL MIER</div>
<div class="badge" style="left:1612.8px;top:1747.30px;width:122px;background:#dcfce7;border-color:#b7f0cb"></div>
<div class="t" style="left:1632.50px;top:1762.16px;font-size:24.5px;font-weight:400;color:#166534;-webkit-text-stroke:0.5px #166534;">GUARD</div>
<div class="t" style="left:2247.50px;top:1738.81px;font-size:30px;font-weight:400;color:#334155;letter-spacing:0.5px;-webkit-text-stroke:0.4px #334155;">Nocturno</div>
<svg style="left:2246.8px;top:1785.40px" width="23.5" height="23.5" viewBox="0 0 23.5 23.5">
<circle cx="11.75" cy="11.75" r="11.75" fill="#94a3b8"/>
<polyline points="11.6,5.2 11.6,12.6 15.4,15.6" stroke="#fff" stroke-width="2.9" fill="none" stroke-linejoin="round" stroke-linecap="round"/>
</svg>
<div class="t" style="left:2279.50px;top:1785.56px;font-size:24.5px;font-weight:400;color:#64748b;letter-spacing:1.0px;-webkit-text-stroke:0.45px #64748b;">19:00 - 07:00</div>
<div class="ab" style="left:3055px;top:1741.00px;border-color:#64748b"></div>
<div class="ab" style="left:3135px;top:1741.00px;border-color:#e89e36"></div>
<div class="ab" style="left:3215px;top:1741.00px;border-color:#de4f4a"></div>
<svg style="left:3055px;top:1741.00px" width="224" height="64" viewBox="0 0 224 64">
<path d="M32.5,25.1 H22.8 Q21.5,25.1 21.5,26.4 V40.3 Q21.5,41.6 22.8,41.6 H36.1 Q37.4,41.6 37.4,40.3 V33.5" stroke="#64748b" stroke-width="2.8" fill="none"/>
<path d="M26.5,38.4 L27.5,33.3 L37.8,23 L41.8,27 L31.5,37.3 Z" fill="#64748b"/>
<path d="M39,21.8 L40.2,20.6 Q41,19.8 41.8,20.6 L43.8,22.6 Q44.6,23.4 43.8,24.2 L42.6,25.4 Z" fill="#64748b"/>
<circle cx="115.9" cy="27.9" r="8.1" fill="#e89e36"/>
<circle cx="118" cy="26.1" r="2" fill="#fff"/>
<path d="M110.5,31 L100,41.3 V44.2 H105.5 V41.5 H108 V39 H110.8 L114.5,35.3 Z" fill="#e89e36"/>
<path d="M181.9,21.8 H187.5 Q188.2,20 190,20 H194.5 Q196.3,20 197,21.8 H202 Q202.8,21.8 202.8,23.05 Q202.8,24.3 202,24.3 H181.9 Q181.1,24.3 181.1,23.05 Q181.1,21.8 181.9,21.8 Z" fill="#de4f4a"/>
<path d="M182.8,26.1 H201.4 L200,42 Q199.8,43.9 197.8,43.9 H186.4 Q184.4,43.9 184.2,42 Z" fill="#de4f4a"/>
</svg>
<div class="hl" style="top:1837.00px"></div>
<div class="abs" style="left:324.5px;top:1871.4px;width:268.5px;height:66.6px;border-radius:18px;background:#f8fafc;border:2px solid #e2e6ec"></div>
<div class="t" style="left:350.00px;top:1893.68px;font-size:24px;font-weight:400;color:#6b7280;letter-spacing:1.0px;-webkit-text-stroke:0.45px #6b7280;">Mostrar</div>
<div class="t" style="left:479.20px;top:1891.99px;font-size:26px;font-weight:700;color:#111827;letter-spacing:0.3px;">10</div>
<svg style="left:519px;top:1896px" width="22" height="16" viewBox="0 0 22 16"><polyline points="3.5,4.5 11,11.5 18.5,4.5" stroke="#6b7280" stroke-width="3.6" fill="none"/></svg>
<div class="abs" style="left:628.5px;top:1896px;width:3px;height:24px;background:#cbd5e1"></div>
<div class="t" style="left:664px;top:1892.84px;font-size:25px;color:#6b7280;-webkit-text-stroke:0.3px #6b7280"><b style="color:#1f2937;-webkit-text-stroke:0">1</b> - <b style="color:#1f2937;-webkit-text-stroke:0">10</b> de <b style="color:#111827;-webkit-text-stroke:0">15</b></div>
<svg style="left:3176px;top:1890px" width="24" height="30" viewBox="0 0 24 30"><polyline points="17,5.5 8,14.8 17,24.2" stroke="#d1d5db" stroke-width="3.4" fill="none"/></svg>
<div class="abs" style="left:3228px;top:1873px;width:64px;height:64px;border-radius:50%;background:#3b7a37"></div>
<div class="t" style="left:3251.50px;top:1892.00px;font-size:28px;font-weight:700;color:#ffffff;">1</div>
<div class="t" style="left:3323.50px;top:1892.00px;font-size:28px;font-weight:400;color:#4b5563;-webkit-text-stroke:0.4px #4b5563;">2</div>
<svg style="left:3392px;top:1890px" width="24" height="30" viewBox="0 0 24 30"><polyline points="7,5.5 16,14.8 7,24.2" stroke="#6b7280" stroke-width="3.4" fill="none"/></svg>
<svg style="left:0;top:0" width="3584" height="2014" viewBox="0 0 3584 2014">
<path d="M0,1962 L0.9,1966 C0.9,2004 9,2013.3 47,2013.3 L52,2014 L0,2014 Z" fill="#20343d"/>
<path d="M0.9,1966 C0.9,2004 9,2013.3 47,2013.3" stroke="#050505" stroke-width="1.4" fill="none"/>
<path d="M3584,1962 L3583.1,1966 C3583.1,2004 3575,2013.3 3537,2013.3 L3532,2014 L3584,2014 Z" fill="#0a0a0a"/>
<path d="M3583.1,1966 C3583.1,2004 3575,2013.3 3537,2013.3" stroke="#050505" stroke-width="1.4" fill="none"/>
</svg>
</div></body></html>
